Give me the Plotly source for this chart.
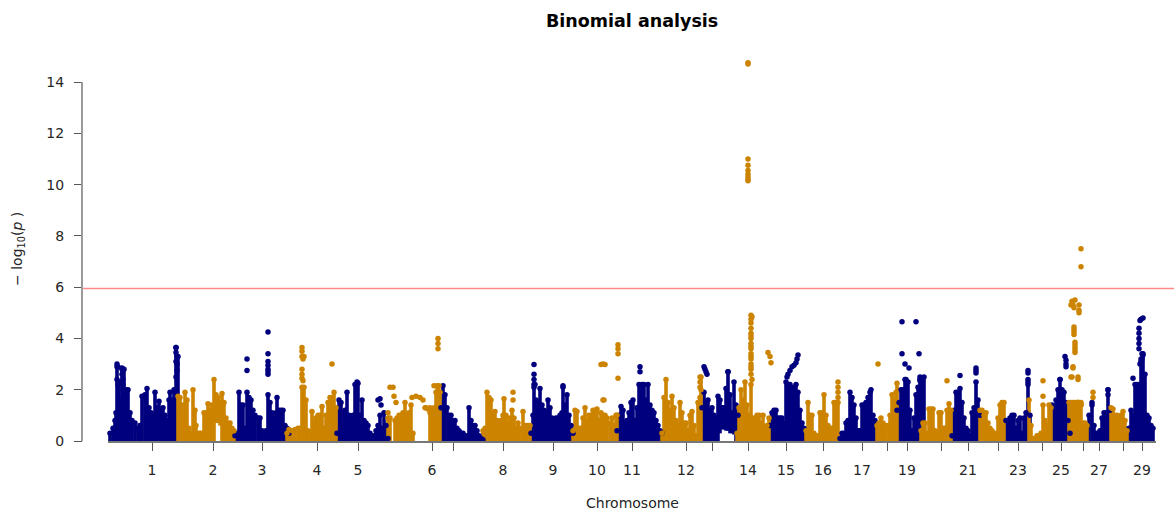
import plotly.graph_objects as go

BLUE = "#00007f"
ORANGE = "#cc8400"

chrom_ticks = [152, 213, 262, 317, 358, 432, 453, 503, 553, 597, 632, 686, 712, 748, 786, 823, 862, 887, 907, 941, 968, 998, 1018, 1042, 1061, 1083, 1099, 1123, 1142]
chrom_labels = ["1", "2", "3", "4", "5", "6", "", "8", "9", "10", "11", "12", "", "14", "15", "16", "17", "", "19", "", "21", "", "23", "", "25", "", "27", "", "29"]

blue_pos = [110,113,115,116,117,119,120,122,124,126,128,130,132,135,138,140,142,145,147,149,151,153,155,157,159,161,163,165,167,169,170,172,174,176,178,
            235,237,239,241,243,245,247,249,251,253,255,258,260,262,264,266,268,270,272,274,276,277,279,281,283,285,287,289,
            337,339,341,343,345,347,349,351,353,355,357,358,360,362,364,366,368,370,372,374,376,378,380,382,384,386,388,
            441,443,445,447,449,451,453,455,457,459,461,463,465,467,469,471,473,475,477,479,481,483,
            531,533,534,536,538,540,542,544,546,548,550,552,554,556,558,560,562,563,565,567,569,571,573,
            617,619,621,623,625,627,629,631,633,635,637,639,641,642,644,646,648,650,652,654,656,658,660,662,
            702,704,706,708,710,712,714,716,718,720,722,724,726,728,730,732,734,736,738,
            770,772,774,776,778,780,782,784,786,788,790,792,794,796,798,800,802,804,
            840,842,844,846,848,850,852,854,856,858,860,862,864,866,868,870,871,873,875,
            897,899,901,903,905,906,908,910,912,914,916,918,920,922,924,
            952,954,956,958,960,962,964,966,968,970,972,974,976,978,980,
            1006,1008,1010,1012,1014,1016,1018,1020,1022,1024,1026,1028,1030,
            1052,1054,1056,1058,1060,1062,1064,1066,1068,1070,
            1089,1092,1094,1096,1098,1100,1102,1104,1106,1108,1110,
            1129,1131,1133,1135,1137,1139,1141,1143,1145,1147,1149,1151,1153]
blue_top = [0.3,0.5,0.8,1.1,2.9,2.3,1.6,2.8,2.8,2.0,2.0,1.1,0.8,0.7,0.5,0.6,1.75,1.8,2.05,1.3,1.1,1.0,1.9,1.3,1.55,1.2,1.3,1.0,0.8,1.6,1.9,1.6,2.0,3.65,3.3,
            0.2,0.3,1.9,1.4,1.4,0.5,1.9,1.7,1.6,1.2,1.0,0.9,0.9,0.4,0.3,0.4,1.8,1.5,1.1,0.9,1.1,1.7,1.2,1.2,1.2,0.6,0.5,0.3,
            0.3,1.6,1.5,1.1,1.2,1.9,1.0,0.9,1.0,2.2,2.3,2.25,1.0,1.6,0.8,0.7,0.6,0.3,0.1,0.2,0.4,0.6,1.0,0.5,1.1,0.6,0.1,
            1.3,2.15,1.8,1.3,1.0,1.0,0.8,0.8,0.5,0.4,0.3,0.3,0.1,0.2,1.3,0.8,0.6,0.6,0.4,0.2,0.1,0.05,
            0.3,1.0,2.1,1.6,1.5,2.05,1.4,1.2,1.1,1.6,1.3,0.9,0.8,0.9,0.9,1.0,1.1,2.1,1.4,1.8,1.0,0.6,0.3,
            0.4,1.0,1.35,1.2,0.7,0.8,1.1,1.5,1.6,0.8,1.3,2.2,1.9,2.2,2.2,1.6,2.2,1.4,1.2,1.1,0.8,0.6,0.4,0.3,
            1.3,1.9,1.5,1.6,1.2,1.3,1.0,0.9,1.75,1.6,1.3,1.3,2.05,2.7,1.8,1.1,2.3,1.4,1.0,
            0.6,1.1,1.2,1.2,0.9,0.9,0.9,0.7,2.3,2.2,2.2,2.0,2.1,2.2,1.9,1.2,0.7,0.5,
            0.1,0.3,0.3,0.7,0.8,1.9,1.7,1.4,0.9,0.4,0.4,1.4,1.4,1.5,1.7,1.9,2.0,1.0,0.8,
            1.2,1.5,2.0,2.0,2.4,2.4,2.3,1.2,0.4,0.9,1.8,2.1,2.35,2.4,2.5,
            0.2,1.2,1.9,1.9,2.05,1.5,0.9,0.5,0.4,0.2,1.1,1.3,2.3,1.6,1.0,
            0.8,0.8,0.9,1.0,1.0,0.5,0.8,0.9,0.3,0.9,1.1,2.2,1.0,
            1.4,1.3,1.6,2.0,2.4,2.0,1.9,1.5,0.8,0.3,
            1.0,1.4,0.6,0.3,0.3,0.4,0.9,1.1,1.1,2.0,1.2,
            0.5,1.2,1.0,2.2,2.2,2.2,3.0,3.4,2.6,1.0,0.9,0.6,0.5]

orange_pos = [178,180,182,184,185,187,189,191,193,195,196,198,200,202,204,206,208,210,212,214,216,218,220,222,224,226,228,230,232,234,
              287,289,292,295,298,300,302,304,306,308,311,312,314,316,318,320,322,324,326,328,330,332,334,336,
              388,390,395,397,399,401,403,405,407,409,411,413,430,432,434,436,438,440,
              483,485,487,489,491,493,495,497,499,501,503,504,506,508,510,512,514,516,518,520,523,525,527,529,530,
              573,575,577,579,581,583,585,587,589,591,593,595,597,599,601,603,605,607,610,612,614,616,617,
              662,664,666,668,670,672,674,676,678,680,682,684,686,688,690,692,694,696,698,700,701,
              737,739,741,743,745,747,749,751,753,755,757,759,761,763,765,767,769,
              806,808,810,812,814,816,818,820,822,824,826,828,830,832,834,836,838,
              877,879,881,883,885,888,890,892,894,896,897,
              921,923,925,927,929,931,933,935,937,939,941,943,945,947,949,951,
              980,982,984,986,988,990,992,994,996,998,1000,1002,1004,
              1029,1031,1033,1035,1037,1039,1041,1043,1045,1047,1049,1051,
              1069,1071,1073,1075,1077,1079,1081,1083,1085,1087,
              1111,1113,1115,1117,1119,1121,1123,1125,1127]
orange_top = [1.75,1.7,1.4,1.0,1.9,1.6,0.5,0.3,2.0,1.2,0.6,0.3,0.3,0.3,1.1,1.1,1.45,1.2,1.4,2.4,1.8,1.7,1.5,1.85,1.5,0.9,0.7,0.7,0.5,0.4,
              0.3,0.45,0.4,0.45,0.5,0.5,2.1,2.1,1.6,0.4,0.35,1.15,0.7,0.9,1.0,1.0,1.35,0.5,1.0,1.5,1.7,1.7,1.9,1.3,
              0.9,0.9,0.8,0.9,1.0,1.0,1.1,1.5,1.0,1.1,1.4,0.3,1.1,1.2,1.3,1.9,2.0,1.9,
              0.4,0.5,1.9,1.7,1.6,1.0,1.15,0.8,0.7,0.8,1.0,1.65,1.0,0.7,0.9,1.2,0.9,0.5,0.7,0.5,1.15,0.6,0.6,0.6,0.6,
              0.4,1.2,1.15,0.5,0.5,0.9,1.3,0.8,1.0,1.0,1.2,1.2,1.25,0.8,1.1,1.0,1.0,0.9,0.7,0.9,0.6,1.0,1.0,
              0.3,1.7,2.4,1.5,1.2,1.75,1.3,0.8,0.6,1.5,1.1,0.7,0.7,0.4,1.0,1.15,0.6,0.2,1.5,1.7,2.5,
              0.3,1.3,2.0,1.6,2.3,1.4,1.0,2.2,0.9,0.8,1.0,1.0,0.7,1.0,0.5,0.6,0.9,
              0.4,1.5,1.0,1.0,0.3,0.2,0.2,1.1,1.1,1.8,1.0,0.6,0.5,0.5,1.5,1.5,1.5,
              0.6,0.7,0.9,0.7,0.6,0.6,1.0,1.8,1.6,1.9,2.25,
              0.4,0.7,0.7,0.3,1.25,1.25,1.25,0.4,0.3,1.1,1.1,0.5,0.5,1.2,1.45,1.2,
              1.2,1.2,1.0,1.1,0.7,0.5,0.4,0.2,0.3,0.9,1.4,1.5,1.5,
              1.6,0.6,0.1,0.1,0.2,0.2,0.3,1.4,0.8,0.6,1.4,1.3,
              1.5,1.5,1.5,1.5,1.5,1.5,1.4,0.7,0.7,0.6,
              1.3,1.25,1.0,1.0,0.9,1.0,1.15,0.8,0.4]

# stems that float above the baseline: position -> lowest value of the stack
blue_floor_pos = [720, 722, 724, 726, 728, 730, 732, 734]
blue_floor_val = [0.3, 0.45, 0.45, 0.4, 0.4, 0.3, 0.3, 0.25]
orange_floor_pos = [216, 218, 220]
orange_floor_val = [0.7, 0.7, 0.6]

blue_dot_pos = [117,118,117,118,122,122,123,123,123,176,176,177,176,177,177,176,
                247,247,268,268,268,268,268,268,268,
                380,378,381,534,534,534,534,535,563,
                704,705,706,707,640,640,728,
                798,797,796,794,792,790,788,787,
                902,902,905,909,916,919,920,920,
                960,976,976,976,
                1028,1028,1028,1028,1065,1066,1066,1066,1060,
                1092,1108,1108,
                1133,1139,1139,1139,1139,1139,1140,1141,1143,1142,1142,1141,1143,1140,1141]
blue_dot_val = [3.0,2.9,2.4,2.2,2.85,2.6,2.4,2.2,2.0,3.65,3.45,3.3,3.1,3.0,2.75,2.5,
                3.2,2.75,4.25,3.4,3.1,2.95,2.8,2.7,2.6,
                1.65,1.6,1.4,2.98,2.6,2.4,2.2,2.2,2.15,
                2.9,2.8,2.7,2.6,2.9,2.7,2.7,
                3.35,3.2,3.05,2.95,2.9,2.75,2.6,2.5,
                4.65,3.4,3.0,2.85,4.65,3.4,2.5,2.4,
                2.55,2.85,2.75,2.65,
                2.75,2.65,2.4,2.3,3.3,3.15,3.0,2.9,2.4,
                1.5,2.0,1.8,
                2.45,4.4,4.2,4.0,3.8,3.6,4.7,4.75,4.8,3.4,3.2,3.1,3.35,3.0,3.2]

orange_dot_pos = [302,302,302,303,304,302,302,302,303,332,
                  388,390,393,394,396,412,416,420,423,426,428,425,430,434,437,439,438,438,438,
                  513,513,605,603,601,603,618,618,618,618,
                  604,700,700,700,701,
                  748,748,748,748,748,748,748,748,748,
                  751,751,751,751,751,751,751,751,751,751,751,751,751,752,752,751,751,751,751,
                  768,770,771,838,838,838,838,878,947,1043,1043,1072,1073,
                  1071,1073,1074,1074,1074,1074,1075,1075,1075,1075,1075,1071,1072,1075,1073,1074,1079,1079,1079,
                  1078,1078,1081,1081,1081,1081,1078,1078,1093,1093]
orange_dot_val = [3.65,3.5,3.3,3.2,3.3,2.8,2.6,2.45,2.35,3.0,
                  1.1,2.1,2.1,1.75,1.5,1.7,1.75,1.7,1.6,1.3,1.25,1.3,1.3,2.15,2.15,2.15,4.0,3.8,3.6,
                  1.9,1.6,2.98,3.0,2.98,1.6,3.75,3.6,3.4,2.45,
                  1.6,2.5,2.3,2.1,2.0,
                  14.75,14.7,11.0,10.75,10.55,10.4,10.3,10.2,10.15,
                  4.9,4.75,4.6,4.4,4.2,4.0,3.8,3.6,3.4,3.2,3.0,2.8,2.6,2.4,4.85,4.1,3.7,3.3,2.9,
                  3.45,3.3,3.05,2.3,2.1,1.9,1.7,3.0,2.35,2.35,1.75,2.5,2.9,
                  2.5,2.85,4.45,4.35,4.25,4.15,3.85,3.75,3.65,3.55,3.45,5.3,5.45,5.5,5.3,5.2,5.3,5.1,5.0,
                  1.5,2.4,7.5,6.8,1.5,1.4,1.5,2.5,1.9,1.7]

threshold = 5.95

TOP = 56
BASE = 441
H = BASE - TOP
UNIT = 25.64


def px(v):
    return (v - 82) / 1092


def py(v):
    return (BASE - v) / H


fig = go.Figure()
for pos, top, fpos, fval, dpos, dval, col in [
    (blue_pos, blue_top, blue_floor_pos, blue_floor_val, blue_dot_pos, blue_dot_val, BLUE),
    (orange_pos, orange_top, orange_floor_pos, orange_floor_val, orange_dot_pos, orange_dot_val, ORANGE),
]:
    floors = dict(zip(fpos, fval))
    base = [floors.get(p, 0) for p in pos]
    height = [t - b for t, b in zip(top, base)]
    fig.add_trace(go.Bar(x=pos, y=height, base=base, width=3.6, marker=dict(color=col, line_width=0)))
    fig.add_trace(go.Scatter(x=pos, y=top, mode="markers", marker=dict(color=col, size=5.5), cliponaxis=False))
    fig.add_trace(go.Scatter(x=dpos, y=dval, mode="markers", marker=dict(color=col, size=5.5), cliponaxis=False))

font = dict(family="DejaVu Sans", size=14, color="#262626")
fig.update_layout(
    width=1174, height=512, autosize=False,
    margin=dict(l=82, r=0, t=TOP, b=512 - BASE, pad=0),
    paper_bgcolor="white", plot_bgcolor="white",
    showlegend=False, barmode="overlay", font=font,
    xaxis=dict(domain=[px(108), px(1156)], range=[108, 1156],
               showgrid=False, zeroline=False, showline=True, linecolor="#777777", linewidth=1.5,
               ticks="outside", ticklen=8, tickwidth=1, tickcolor="#555555",
               tickmode="array", tickvals=chrom_ticks, ticktext=chrom_labels,
               tickangle=0, ticklabelstandoff=7, tickfont=font),
    yaxis=dict(range=[0, H / UNIT], anchor="free", position=0,
               showgrid=False, zeroline=False, showline=False,
               ticks="outside", ticklen=8, tickwidth=1, tickcolor="#555555",
               tickmode="array", tickvals=[0, 2, 4, 6, 8, 10, 12, 14],
               ticklabelstandoff=7, tickfont=font),
    shapes=[
        dict(type="line", xref="paper", yref="y", x0=0, x1=1, y0=threshold, y1=threshold,
             line=dict(color="#ff8a8a", width=1.5), layer="above"),
        dict(type="line", xref="paper", yref="y", x0=0, x1=0, y0=0, y1=14,
             line=dict(color="#999999", width=2), layer="above"),
    ],
    annotations=[
        dict(text="<b>Binomial analysis</b>", xref="paper", yref="paper",
             x=px(632), y=py(21), showarrow=False,
             xanchor="center", yanchor="middle", font=dict(family="DejaVu Sans", size=17.5, color="black")),
        dict(text="Chromosome", xref="paper", yref="paper",
             x=px(632), y=py(503), showarrow=False,
             xanchor="center", yanchor="middle", font=dict(family="DejaVu Sans", size=14, color="#262626")),
        dict(text="− log<sub>10</sub>(<i>p</i> )", xref="paper", yref="paper",
             x=px(18), y=py(249), showarrow=False, textangle=-90,
             xanchor="center", yanchor="middle", font=font),
    ],
)
fig.write_html("out.html", config={"displayModeBar": False},
               post_script="document.body.style.margin='0';document.body.style.overflow='hidden';")
